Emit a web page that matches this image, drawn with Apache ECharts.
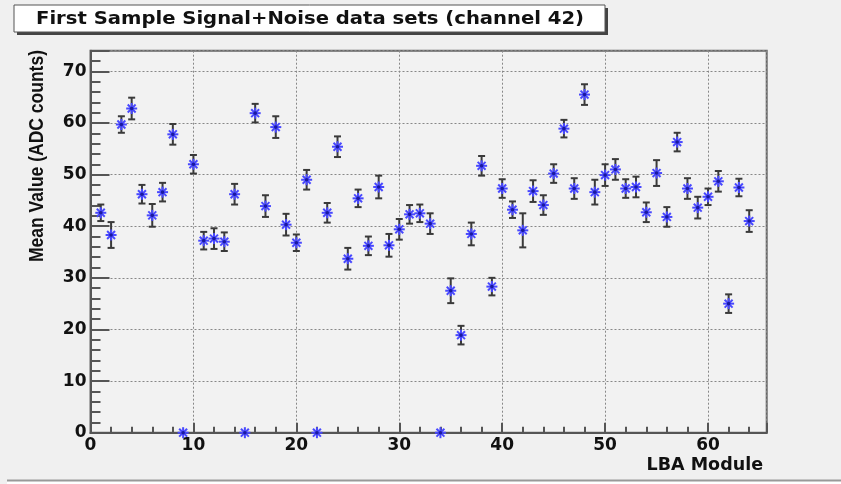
<!DOCTYPE html>
<html>
<head>
<meta charset="utf-8">
<script src="https://cdn.jsdelivr.net/npm/echarts@6/dist/echarts.min.js"></script>
<style>
html,body{margin:0;padding:0;background:#f0f0f0;}
#chart{width:841px;height:484px;}
</style>
</head>
<body>
<div id="chart"></div>
<script>
const titleText = 'First Sample Signal+Noise data sets (channel 42)';
const xTitle = 'LBA Module';
const yTitle = 'Mean Value (ADC counts)';
const modules = [1,2,3,4,5,6,7,8,9,10,11,12,13,14,15,16,17,18,19,20,21,22,23,24,25,26,27,28,29,30,31,32,
  33,34,35,36,37,38,39,40,41,42,43,44,45,46,47,48,49,50,51,52,53,54,55,56,57,58,59,60,61,62,63,64];
const means = [42.6,38.3,59.7,62.8,46.2,42.1,46.6,57.8,0,52.0,37.2,37.6,37.0,46.2,0,61.9,
  43.9,59.2,40.3,36.8,49.0,0,42.6,55.4,33.7,45.4,36.2,47.6,36.3,39.4,42.3,42.5,
  40.5,0,27.5,18.9,38.5,51.7,28.3,47.3,43.2,39.2,46.8,44.1,50.2,58.9,47.3,65.5,
  46.6,49.9,51.0,47.3,47.6,42.7,50.3,41.8,56.3,47.3,43.6,45.7,48.7,25.0,47.5,41.0];
const errors = [1.6,2.5,1.6,2.1,1.8,2.2,1.8,2.0,0,1.8,1.7,2.0,1.8,2.0,0,1.8,
  2.1,2.1,2.1,1.6,1.9,0,1.9,2.0,2.1,1.7,1.8,2.2,2.2,2.0,1.8,1.7,
  2.0,0,2.4,1.8,2.2,1.9,1.7,1.8,1.6,3.3,2.1,1.9,1.8,1.7,2.0,2.0,
  2.4,2.1,2.0,1.8,2.0,1.9,2.5,1.9,1.8,2.0,2.1,1.6,2.0,1.8,1.7,2.1];
const xTicks = [0,10,20,30,40,50,60];
const yTicks = [0,10,20,30,40,50,60,70];

const data = modules.map((m,i)=>[m, means[i], errors[i]]);
const labelFont = 'DejaVu Sans';

function renderItem(params, api){
  const x = api.value(0), y = api.value(1), e = api.value(2);
  const c = api.coord([x,y]);
  const ch = [];
  if (e > 0){
    const lo = api.coord([x, y - e]), hi = api.coord([x, y + e]);
    const st = {stroke:'#3a3a3a', lineWidth:2};
    ch.push({type:'line', shape:{x1:c[0],y1:lo[1],x2:c[0],y2:hi[1]}, style:st});
    ch.push({type:'line', shape:{x1:c[0]-3.5,y1:lo[1],x2:c[0]+3.5,y2:lo[1]}, style:st});
    ch.push({type:'line', shape:{x1:c[0]-3.5,y1:hi[1],x2:c[0]+3.5,y2:hi[1]}, style:st});
  }
  const r = 5.5, d = r*0.72;
  const ms = {stroke:'#4848ff', lineWidth:2};
  ch.push({type:'line', shape:{x1:c[0]-r,y1:c[1],x2:c[0]+r,y2:c[1]}, style:ms});
  ch.push({type:'line', shape:{x1:c[0],y1:c[1]-r,x2:c[0],y2:c[1]+r}, style:ms});
  ch.push({type:'line', shape:{x1:c[0]-d,y1:c[1]-d,x2:c[0]+d,y2:c[1]+d}, style:ms});
  ch.push({type:'line', shape:{x1:c[0]-d,y1:c[1]+d,x2:c[0]+d,y2:c[1]-d}, style:ms});
  ch.push({type:'circle', shape:{cx:c[0],cy:c[1],r:1.8}, style:{fill:'#1a1aa0'}});
  return {type:'group', children:ch};
}

const chart = echarts.init(document.getElementById('chart'), null, {renderer:'canvas'});
chart.setOption({
  backgroundColor:'#f0f0f0',
  animation:false,
  grid:{left:90.5, right:74.3, top:50.7, bottom:51.3, show:true, backgroundColor:'#f2f2f2', borderColor:'#666', borderWidth:2},
  xAxis:{
    type:'value', min:0, max:65.7, interval:10,
    axisLine:{show:true, onZero:false, lineStyle:{color:'#555', width:2}},
    axisTick:{show:true, inside:true, length:10, lineStyle:{color:'#555', width:2}},
    minorTick:{show:true, splitNumber:5, length:6, lineStyle:{color:'#555', width:2}},
    splitLine:{show:true, lineStyle:{color:'#888', type:[2,2], width:1}},
    axisLabel:{show:true, margin:4, showMaxLabel:false, color:'#111', fontFamily:labelFont, fontWeight:'bold', fontSize:17,
      formatter:v=> xTicks.includes(v) ? String(v) : ''}
  },
  yAxis:{
    type:'value', min:0, max:74, interval:10,
    axisLine:{show:true, onZero:false, lineStyle:{color:'#555', width:2}},
    axisTick:{show:true, inside:true, length:19, lineStyle:{color:'#555', width:2}},
    minorTick:{show:true, splitNumber:5, length:10, lineStyle:{color:'#555', width:2}},
    splitLine:{show:true, lineStyle:{color:'#888', type:[2,2], width:1}},
    axisLabel:{show:true, margin:4, showMaxLabel:false, color:'#111', fontFamily:labelFont, fontWeight:'bold', fontSize:17,
      formatter:v=> yTicks.includes(v) ? String(v) : ''}
  },
  series:[{
    type:'custom', renderItem:renderItem, data:data, clip:false,
    encode:{x:0, y:1}, z:5
  }],
  graphic:[
    {type:'rect', shape:{x:17, y:8, width:591, height:27}, style:{fill:'#444'}, z:10},
    {type:'rect', shape:{x:14, y:5, width:591, height:27}, style:{fill:'#fff', stroke:'#555', lineWidth:1}, z:11},
    {type:'text', x:36, y:19.5, scaleX:1.12, z:12,
      style:{text:titleText, x:0, y:0, fill:'#111', font:'bold 17.5px "DejaVu Sans"', textAlign:'left', textVerticalAlign:'middle'}},
    {type:'text', x:763, y:465, z:12,
      style:{text:xTitle, x:0, y:0, fill:'#111', font:'bold 17.5px "DejaVu Sans"', textAlign:'right', textVerticalAlign:'middle'}},
    {type:'text', x:37, y:50, rotation:Math.PI/2, scaleY:1.15, z:12,
      style:{text:yTitle, x:0, y:0, fill:'#111', font:'bold 17.5px "Liberation Sans"', textAlign:'right', textVerticalAlign:'middle'}},
    {type:'rect', shape:{x:7, y:480, width:834, height:4}, style:{fill:'#fff'}, z:1},
    {type:'line', shape:{x1:7, y1:480.5, x2:841, y2:480.5}, style:{stroke:'#999', lineWidth:2}, z:2}
  ]
});
</script>
</body>
</html>
